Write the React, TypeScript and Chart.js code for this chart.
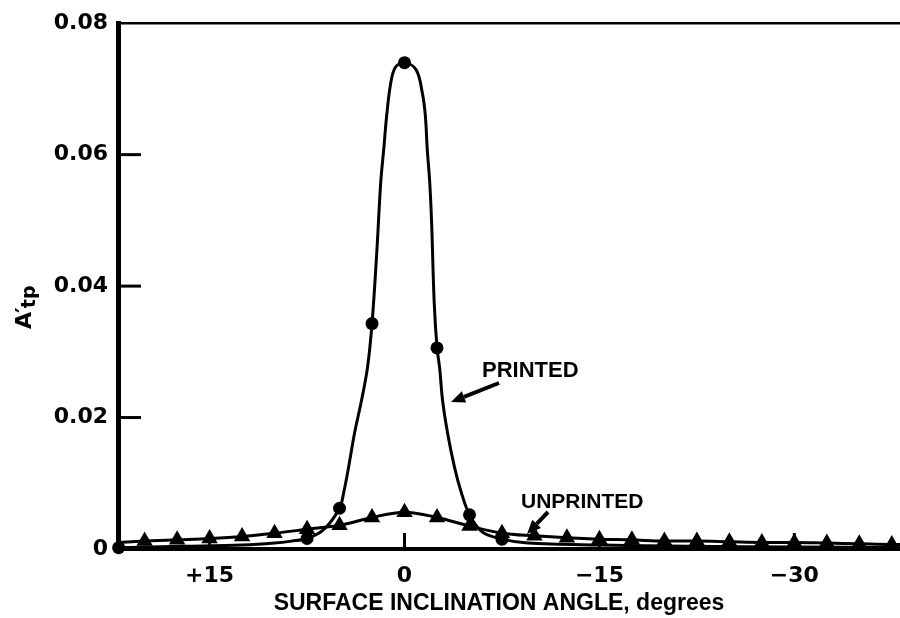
import React, { useEffect, useRef } from "react";
import { Chart, registerables } from "chart.js";

Chart.register(...registerables);

// ---- Data ----
const xTickValues = [15, 0, -15, -30];
const xTickLabels = ["+15", "0", "\u221215", "\u221230"];
const yTickValues = [0, 0.02, 0.04, 0.06, 0.08];
const yTickLabels = ["0", "0.02", "0.04", "0.06", "0.08"];

// PRINTED: measured points (circles)
const printedAngles = [22, 7.5, 5, 2.5, 0, -2.5, -5, -7.5];
const printedValues = [0.0002, 0.0016, 0.0062, 0.0343, 0.074, 0.0306, 0.0052, 0.0015];

// PRINTED: faired curve
const printedCurveAngles = [
  22.05, 17, 12.5, 10, 8.7, 7.5, 6.2, 5, 4.68, 4.3, 3.84, 3.31, 2.85, 2.5,
  2.13, 1.83, 1.6, 1.37, 1.06, 0.7, 0, -0.9, -1.37, -1.6, -1.75,
  -1.94, -2.09, -2.28, -2.5, -2.7, -2.93, -3.31, -3.84, -4.37, -5, -5.97, -7.5,
  -9.5, -15, -22, -30, -39,
];
const printedCurveValues = [
  0.0002, 0.0004, 0.0006, 0.0009, 0.0012, 0.0016, 0.003, 0.0062, 0.0086,
  0.0125, 0.0177, 0.0226, 0.0276, 0.0343, 0.0453, 0.0558,
  0.0608, 0.066, 0.0709, 0.0733, 0.074, 0.0729, 0.0694, 0.066, 0.0608, 0.0558,
  0.0494, 0.0377, 0.0306, 0.0276, 0.0226, 0.0177, 0.0125, 0.0086, 0.0052,
  0.0026, 0.0015, 0.0009, 0.0006, 0.0004, 0.0003, 0.0002,
];

// UNPRINTED: measured points (triangles)
const unprintedAngles = [
  20, 17.5, 15, 12.5, 10, 7.5, 5, 2.5, 0, -2.5, -5, -7.5, -10, -12.5, -15,
  -17.5, -20, -22.5, -25, -27.5, -30, -32.5, -35, -37.5,
];
const unprintedValues = [
  0.0012, 0.0014, 0.0016, 0.0019, 0.0024, 0.003, 0.0036, 0.0048, 0.0056, 0.0048,
  0.0035, 0.0024, 0.002, 0.0017, 0.0015, 0.0014, 0.0012, 0.0012, 0.0011, 0.001,
  0.001, 0.0009, 0.0008, 0.0007,
];
// UNPRINTED: faired curve
const unprintedCurveAngles = [
  22.05, 20, 17.5, 15, 12.5, 10, 7.5, 5, 2.5, 0, -2.5, -5, -7.5, -10, -12.5, -15,
  -17.5, -20, -22.5, -25, -27.5, -30, -32.5, -35, -37.5, -39,
];
const unprintedCurveValues = [
  0.001, 0.0012, 0.0014, 0.0016, 0.0019, 0.0024, 0.003, 0.0036, 0.0048, 0.0056,
  0.0048, 0.0035, 0.0024, 0.002, 0.0017, 0.0015, 0.0014, 0.0012, 0.0012, 0.0011,
  0.001, 0.001, 0.0009, 0.0008, 0.0007, 0.0007,
];

const xMin = -38.94;
const xMax = 22.05;
const yMin = 0;
const yMax = 0.08;

const toPoints = (xs: number[], ys: number[]) => xs.map((x, i) => ({ x, y: ys[i] }));

const TICK_FONT = { family: "DejaVu Sans", weight: "bold" as const, size: 22 };

const decorPlugin = {
  id: "decor",
  afterDatasetsDraw(chart: any) {
    const { ctx, chartArea } = chart;
    const xs = chart.scales.x;
    const ys = chart.scales.y;
    ctx.save();
    ctx.strokeStyle = "#000";
    ctx.fillStyle = "#000";
    ctx.lineCap = "butt";
    // top frame line
    ctx.lineWidth = 2.5;
    ctx.beginPath();
    ctx.moveTo(chartArea.left, chartArea.top);
    ctx.lineTo(chartArea.right, chartArea.top);
    ctx.stroke();
    // inward y ticks
    ctx.lineWidth = 3;
    yTickValues.forEach((v) => {
      if (v <= yMin || v >= yMax) return;
      const py = ys.getPixelForValue(v);
      ctx.beginPath();
      ctx.moveTo(chartArea.left, py);
      ctx.lineTo(chartArea.left + 23, py);
      ctx.stroke();
    });
    // inward x ticks
    ctx.lineWidth = 3;
    xTickValues.forEach((v) => {
      const px = xs.getPixelForValue(v);
      ctx.beginPath();
      ctx.moveTo(px, chartArea.bottom);
      ctx.lineTo(px, chartArea.bottom - 16);
      ctx.stroke();
    });

    // arrows
    const arrow = (x1: number, y1: number, x2: number, y2: number) => {
      const ang = Math.atan2(y2 - y1, x2 - x1);
      const hl = 14;
      const hw = 6;
      const bx = x2 - hl * Math.cos(ang);
      const by = y2 - hl * Math.sin(ang);
      ctx.lineWidth = 4;
      ctx.beginPath();
      ctx.moveTo(x1, y1);
      ctx.lineTo(bx, by);
      ctx.stroke();
      ctx.beginPath();
      ctx.moveTo(x2, y2);
      ctx.lineTo(bx + hw * Math.sin(ang), by - hw * Math.cos(ang));
      ctx.lineTo(bx - hw * Math.sin(ang), by + hw * Math.cos(ang));
      ctx.closePath();
      ctx.fill();
    };
    arrow(499, 383, 451, 402);
    arrow(548, 512, 527, 534);

    // annotation labels
    ctx.textAlign = "left";
    ctx.textBaseline = "alphabetic";
    ctx.font = "bold 22px 'Liberation Sans'";
    ctx.fillText("PRINTED", 482, 377);
    ctx.font = "bold 21px 'Liberation Sans'";
    ctx.fillText("UNPRINTED", 521, 508);

    // x axis title
    ctx.font = "bold 23px 'Liberation Sans'";
    ctx.textAlign = "center";
    ctx.fillText("SURFACE INCLINATION ANGLE, degrees", 499, 610);

    // y axis title A'tp (rotated)
    ctx.translate(31, 329);
    ctx.rotate(-Math.PI / 2);
    ctx.textAlign = "left";
    ctx.font = "bold 22px 'DejaVu Sans'";
    ctx.fillText("A", 0, 0);
    let w = ctx.measureText("A").width;
    ctx.fillText("\u2032", w - 1, 0);
    w += ctx.measureText("\u2032").width - 2;
    ctx.font = "bold 19px 'DejaVu Sans'";
    ctx.fillText("tp", w, 4);
    ctx.restore();
  },
};

export default function App() {
  const ref = useRef<HTMLCanvasElement>(null);

  useEffect(() => {
    const canvas = ref.current;
    if (!canvas) return;
    const chart = new Chart(canvas, {
      type: "scatter",
      data: {
        datasets: [
          {
            label: "PRINTED curve",
            data: toPoints(printedCurveAngles, printedCurveValues),
            showLine: true,
            borderColor: "#000",
            borderWidth: 3,
            pointRadius: 0,
            tension: 0.35,
          },
          {
            label: "UNPRINTED curve",
            data: toPoints(unprintedCurveAngles, unprintedCurveValues),
            showLine: true,
            borderColor: "#000",
            borderWidth: 3,
            pointRadius: 0,
            cubicInterpolationMode: "monotone",
          },
          {
            label: "PRINTED",
            data: toPoints(printedAngles, printedValues),
            showLine: false,
            clip: false,
            pointStyle: "circle",
            pointRadius: 6.5,
            pointBackgroundColor: "#000",
            pointBorderColor: "#000",
            pointBorderWidth: 0,
          },
          {
            label: "UNPRINTED",
            data: toPoints(unprintedAngles, unprintedValues),
            showLine: false,
            clip: false,
            pointStyle: "triangle",
            pointRadius: 9.5,
            pointBackgroundColor: "#000",
            pointBorderColor: "#000",
            pointBorderWidth: 0,
          },
        ] as any,
      },
      options: {
        responsive: false,
        animation: false,
        events: [],
        layout: { padding: { top: 20, left: 0, right: 0, bottom: 0 } },
        plugins: {
          legend: { display: false },
          tooltip: { enabled: false },
          title: { display: false },
        },
        scales: {
          x: {
            type: "linear",
            reverse: true,
            min: xMin,
            max: xMax,
            grid: { display: false, drawTicks: false },
            border: { display: true, color: "#000", width: 4 },
            afterBuildTicks: (scale: any) => {
              scale.ticks = xTickValues.map((v) => ({ value: v }));
            },
            afterFit: (scale: any) => {
              scale.height = 69;
            },
            ticks: {
              color: "#000",
              font: TICK_FONT,
              padding: 14,
              maxRotation: 0,
              autoSkip: false,
              callback: (v: any) => {
                const i = xTickValues.indexOf(Number(v));
                return i >= 0 ? xTickLabels[i] : "";
              },
            },
          },
          y: {
            type: "linear",
            min: yMin,
            max: yMax,
            grid: { display: false, drawTicks: false },
            border: { display: true, color: "#000", width: 5 },
            afterBuildTicks: (scale: any) => {
              scale.ticks = yTickValues.map((v) => ({ value: v }));
            },
            afterFit: (scale: any) => {
              scale.width = 118;
            },
            ticks: {
              color: "#000",
              font: TICK_FONT,
              padding: 10,
              autoSkip: false,
              callback: (v: any) => {
                const i = yTickValues.indexOf(Number(v));
                return i >= 0 ? yTickLabels[i] : "";
              },
            },
          },
        },
      } as any,
      plugins: [decorPlugin],
    });
    return () => chart.destroy();
  }, []);

  return (
    <div
      style={{
        position: "fixed",
        left: 0,
        top: 0,
        width: 900,
        height: 618,
        overflow: "hidden",
        background: "#fff",
      }}
    >
      <canvas ref={ref} width={920} height={618} style={{ display: "block" }} />
    </div>
  );
}
